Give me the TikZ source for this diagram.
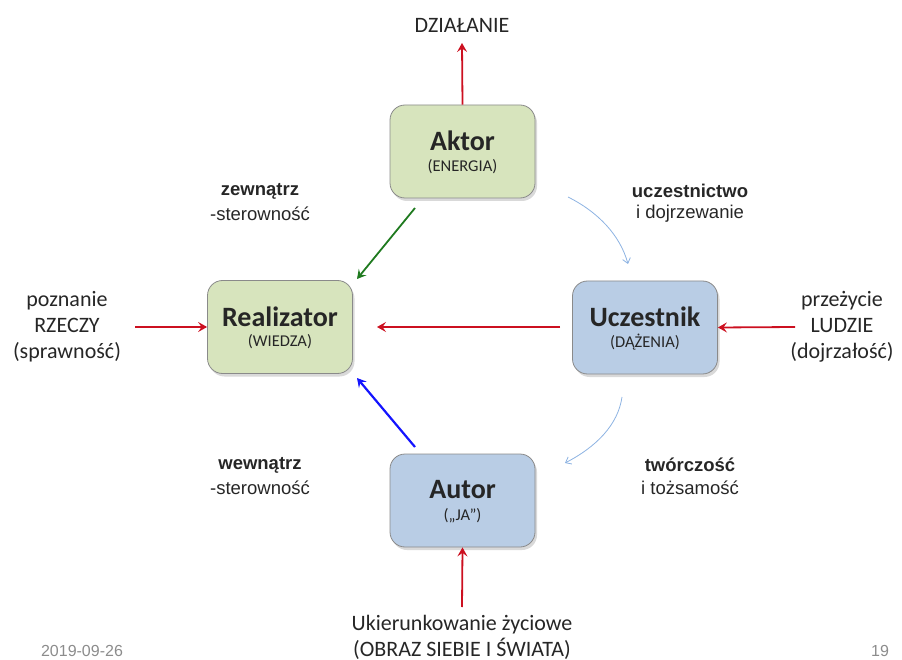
\documentclass[tikz,border=0pt]{standalone}
\usepackage{fontspec}
\setmainfont{Carlito}
\newfontfamily\arialfont{Liberation Sans}
\usetikzlibrary{arrows.meta,shadows}

\definecolor{boxgreen}{HTML}{D7E4BD}
\definecolor{boxblue}{HTML}{B9CDE5}
\definecolor{boxedge}{HTML}{8A8A8A}
\definecolor{arrred}{HTML}{CC1020}
\definecolor{arrgreen}{HTML}{1F7A1F}
\definecolor{arrblue}{HTML}{1414FF}
\definecolor{cyclecol}{HTML}{8DB3E2}
\definecolor{txt}{HTML}{262626}
\definecolor{foot}{HTML}{8C8C8C}

\tikzset{
  rolebox/.style={draw=boxedge, line width=0.8pt, rounded corners=15pt,
    minimum width=145pt, minimum height=93pt, inner sep=0pt,
    drop shadow={opacity=0.3, shadow xshift=2pt, shadow yshift=-3pt}},
  greenbox/.style={rolebox, fill=boxgreen},
  bluebox/.style={rolebox, fill=boxblue},
  roletitle/.style={text=txt, font=\fontsize{28}{30}\selectfont\bfseries},
  rolesub/.style={text=txt, font=\fontsize{16.5}{18}\selectfont},
  tip/.style={-{Stealth[length=9pt,width=10pt,inset=3.5pt]}},
  redarrow/.style={tip, draw=arrred, line width=1.8pt},
  greenarrow/.style={tip, draw=arrgreen, line width=1.8pt},
  bluearrow/.style={tip, draw=arrblue, line width=2.2pt},
  cyclearrow/.style={-{Straight Barb[length=5pt,width=8pt]}, draw=cyclecol, line width=0.8pt},
  relbold/.style={text=txt, font=\arialfont\fontsize{18.5}{21}\selectfont\bfseries},
  relplain/.style={text=txt, font=\arialfont\fontsize{18.5}{21}\selectfont},
  sidetext/.style={text=txt, align=center, font=\fontsize{22}{26}\selectfont},
  footer/.style={text=foot, inner sep=1pt, font=\arialfont\fontsize{16}{18}\selectfont}
}

\begin{document}
\begin{tikzpicture}[x=1pt,y=-1pt]
  \useasboundingbox (0,0) rectangle (902,660);

  % the four role boxes
  \node[greenbox] (aktor) at (462.5,151.5) {};
  \node[greenbox] (realizator) at (280,327) {};
  \node[bluebox] (uczestnik) at (645,327.5) {};
  \node[bluebox] (autor) at (462.5,500.5) {};

  \node[roletitle] (aktorT) at (462.5,141) {Aktor};
  \node[rolesub] (aktorS) at (462.5,167) {(ENERGIA)};
  \node[roletitle] (realizatorT) at (280,317) {Realizator};
  \node[rolesub] (realizatorS) at (280,342) {(WIEDZA)};
  \node[roletitle] (uczestnikT) at (645,317) {Uczestnik};
  \node[rolesub] (uczestnikS) at (645,342) {(DĄŻENIA)};
  \node[roletitle] (autorT) at (462.5,490) {Autor};
  \node[rolesub] (autorS) at (462.5,516) {(„JA”)};

  % outer labels
  \node[sidetext] (dzialanie) at (462,25) {DZIAŁANIE};
  \node[sidetext] (poznanie) at (67,327) {poznanie\\RZECZY\\(sprawność)};
  \node[sidetext] (przezycie) at (842,327) {przeżycie\\LUDZIE\\(dojrzałość)};
  \node[sidetext] (ukier) at (462,637) {Ukierunkowanie życiowe\\(OBRAZ SIEBIE I ŚWIATA)};

  % relation labels
  \node[relbold] (zewT) at (260,191) {zewnątrz};
  \node[relplain] (zewS) at (260,214) {-sterowność};
  \node[relbold] (uczT) at (690,191) {uczestnictwo};
  \node[relplain] (uczS) at (690,214) {i dojrzewanie};
  \node[relbold] (wewT) at (260,465) {wewnątrz};
  \node[relplain] (wewS) at (260,488) {-sterowność};
  \node[relbold] (twoT) at (690,465) {twórczość};
  \node[relplain] (twoS) at (690,488) {i tożsamość};

  % footer
  \node[footer] (date) at (82,651) {2019-09-26};
  \node[footer] (page) at (880,651) {19};

  % arrow end points
  \coordinate (dzTip) at (462,43);
  \coordinate (pzStart) at (135,327);
  \coordinate (przStart) at (795,327);
  \coordinate (ukStart) at (462,607);
  \coordinate (midStart) at (560,327);
  \coordinate (midTip) at (377,327);
  \coordinate (gStart) at (415,208);
  \coordinate (gTip) at (357,279);
  \coordinate (bStart) at (415,447);
  \coordinate (bTip) at (357,378);
  \coordinate (c1Start) at (568,197);
  \coordinate (c1Tip) at (628,264);
  \coordinate (c2Start) at (622,397);
  \coordinate (c2Tip) at (565,463);

  % straight arrows
  \draw[redarrow] (aktor.north) -- (dzTip);
  \draw[redarrow] (pzStart) -- (realizator.west);
  \draw[redarrow] (przStart) -- (uczestnik.east);
  \draw[redarrow] (ukStart) -- (autor.south);
  \draw[redarrow] (midStart) -- (midTip);
  \draw[greenarrow] (gStart) -- (gTip);
  \draw[bluearrow] (bStart) -- (bTip);

  % thin curved cycle arrows
  \draw[cyclearrow] (c1Start) .. controls (598,212) and (620,235) .. (c1Tip);
  \draw[cyclearrow] (c2Start) .. controls (618,425) and (596,447) .. (c2Tip);
\end{tikzpicture}
\end{document}
